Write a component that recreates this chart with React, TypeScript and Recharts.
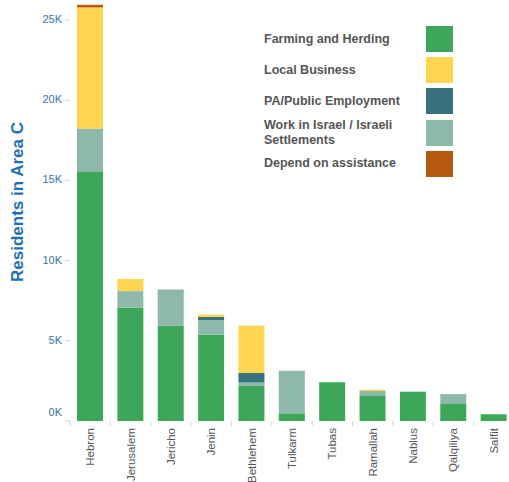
import { Bar, BarChart, XAxis, YAxis } from "recharts";

const regions = [
  "Hebron",
  "Jerusalem",
  "Jericho",
  "Jenin",
  "Bethlehem",
  "Tulkarm",
  "Tubas",
  "Ramallah",
  "Nablus",
  "Qalqiliya",
  "Salfit",
];
const farming = [15530, 7080, 5960, 5400, 2190, 480, 2410, 1600, 1830, 1060, 420];
const israelWork = [2700, 1020, 2240, 890, 210, 2650, 0, 270, 0, 620, 0];
const publicEmp = [0, 0, 0, 200, 600, 0, 0, 0, 0, 0, 0];
const business = [7560, 750, 0, 150, 2940, 0, 0, 80, 0, 0, 0];
const assistance = [160, 0, 0, 0, 0, 0, 0, 0, 0, 0, 0];
const yTicks = [0, 5000, 10000, 15000, 20000, 25000];

const series = [
  { key: "farming", label: "Farming and Herding", color: "#3ea65b" },
  { key: "business", label: "Local Business", color: "#fdd550" },
  { key: "publicEmp", label: "PA/Public Employment", color: "#37717c" },
  { key: "israelWork", label: "Work in Israel / Israeli Settlements", color: "#8eb9aa" },
  { key: "assistance", label: "Depend on assistance", color: "#b5590f" },
];
// bottom-up stacking order
const stackOrder = ["farming", "israelWork", "publicEmp", "business", "assistance"];

const data = regions.map((name, i) => ({
  name,
  farming: farming[i],
  israelWork: israelWork[i],
  publicEmp: publicEmp[i],
  business: business[i],
  assistance: assistance[i],
}));

const W = 520;
const H = 482;
const M = { top: 4, right: 6, left: 0, bottom: 0 };
const Y_W = 70;
const band = (W - M.left - M.right - Y_W) / regions.length;
const font = "'Liberation Sans', Arial, sans-serif";

function XTick(props: any) {
  const { x, y, payload } = props;
  const bx = x - band / 2;
  return (
    <g>
      <line x1={bx} y1={y - 6} x2={bx} y2={y - 1} stroke="#d6d6d6" />
      <text
        x={x + 4}
        y={y + 1}
        transform={`rotate(-90 ${x + 4} ${y + 1})`}
        textAnchor="end"
        fill="#555"
        fontSize={11.5}
        fontFamily={font}
      >
        {payload.value}
      </text>
    </g>
  );
}

function YTick(props: any) {
  const { x, y, payload } = props;
  const dy = payload.value === 0 ? -8 : 0;
  return (
    <text
      x={x}
      y={y + dy}
      textAnchor="end"
      dominantBaseline="middle"
      fill="#3574b0"
      fontSize={11}
      fontFamily={font}
    >
      {payload.value / 1000}K
    </text>
  );
}

function Legend() {
  return (
    <div
      style={{
        position: "absolute",
        top: 26,
        left: 264,
        fontFamily: font,
        fontWeight: "bold",
        fontSize: 12.5,
        color: "#555",
      }}
    >
      {series.map((s) => (
        <div
          key={s.key}
          style={{ display: "flex", alignItems: "center", height: 26, marginBottom: 5.2 }}
        >
          <div style={{ width: 162, lineHeight: "15px" }}>
            {s.key === "israelWork" ? (
              <>
                Work in Israel / Israeli
                <br />
                Settlements
              </>
            ) : (
              s.label
            )}
          </div>
          <div style={{ width: 27, height: 26, background: s.color }} />
        </div>
      ))}
    </div>
  );
}

export default function App() {
  return (
    <div
      style={{
        position: "fixed",
        left: 0,
        top: 0,
        width: 509,
        height: 482,
        overflow: "hidden",
        background: "#fff",
      }}
    >
      <BarChart width={W} height={H} data={data} margin={M} barSize={26}>
        <XAxis
          dataKey="name"
          interval={0}
          axisLine={false}
          tickLine={false}
          height={61}
          tick={<XTick />}
          tickMargin={0}
        />
        <YAxis
          width={Y_W}
          domain={[0, 26000]}
          ticks={yTicks}
          axisLine={false}
          tickLine={{ stroke: "#d0d0d0" }}
          tickSize={5}
          tickMargin={3}
          tick={<YTick />}
          label={{
            content: () => (
              <text
                x={23}
                y={202}
                transform="rotate(-90 23 202)"
                textAnchor="middle"
                fill="#1f6fb5"
                fontSize={17}
                fontWeight="bold"
                fontFamily={font}
              >
                Residents in Area C
              </text>
            ),
          }}
        />
        {stackOrder.map((k) => {
          const s = series.find((x) => x.key === k)!;
          return (
            <Bar
              key={k}
              dataKey={k}
              stackId="a"
              fill={s.color}
              isAnimationActive={false}
            />
          );
        })}
      </BarChart>
      <Legend />
    </div>
  );
}
